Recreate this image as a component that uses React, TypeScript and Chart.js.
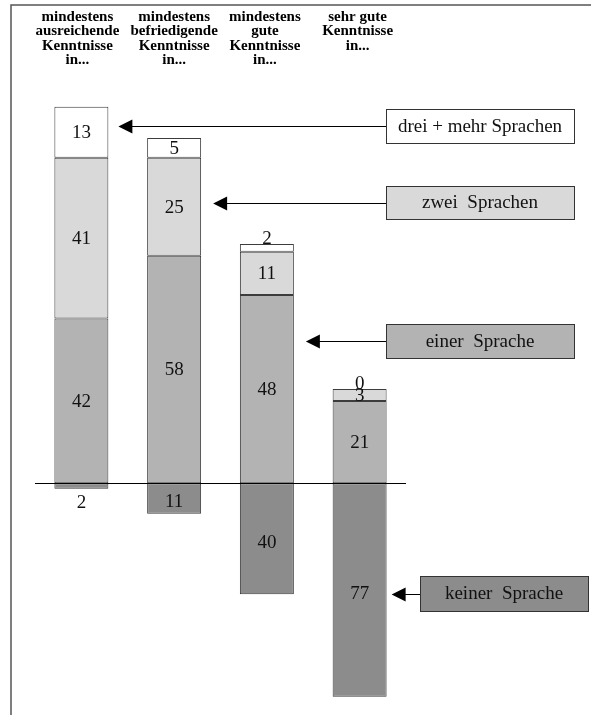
import React, { useEffect, useRef } from "react";
import { Chart, registerables } from "chart.js";
Chart.register(...registerables);

// ---- data ----
const categories = ["ausreichende", "befriedigende", "gute", "sehr gute"];
const headerLines = [
  ["mindestens", "ausreichende", "Kenntnisse", "in..."],
  ["mindestens", "befriedigende", "Kenntnisse", "in..."],
  ["mindestens", "gute", "Kenntnisse", "in..."],
  ["sehr gute", "Kenntnisse", "in..."],
];
const einer = [42, 58, 48, 21];
const zwei = [41, 25, 11, 3];
const dreiPlus = [13, 5, 2, 0];
const keiner = [2, 11, 40, 77];
const seriesNames = ["einer  Sprache", "zwei  Sprachen", "drei + mehr Sprachen", "keiner  Sprache"];
const seriesColors = ["#b3b3b3", "#d9d9d9", "#ffffff", "#8c8c8c"];

// ---- layout ----
const W = 591;
const H = 715;
const Y_MAX = 100;
const Y_MIN = -55;
const NEG_K = 1.415; // negative part drawn on its own, compressed axis
const headerOffsets = [-4, 0, -2, -2];
const legendBoxes = [
  { s: 2, bar: 0, x: 386, y: 109, w: 188, h: 34, gap: 10 },
  { s: 1, bar: 1, x: 386, y: 186, w: 188, h: 33, gap: 12 },
  { s: 0, bar: 2, x: 386, y: 324, w: 188, h: 34, gap: 12 },
  { s: 3, bar: 3, x: 420, y: 576, w: 168, h: 35, gap: 5 },
];

const overlay = {
  id: "overlay",
  beforeDraw(chart: any) {
    const ctx = chart.ctx;
    ctx.save();
    ctx.strokeStyle = "#555";
    ctx.lineWidth = 1.5;
    ctx.beginPath();
    ctx.moveTo(11, chart.height);
    ctx.lineTo(11, 5);
    ctx.lineTo(chart.width, 5);
    ctx.stroke();
    ctx.restore();
  },
  afterDatasetsDraw(chart: any) {
    const ctx = chart.ctx;
    const area = chart.chartArea;
    const xs = chart.scales.x;
    const y0 = chart.scales.y.getPixelForValue(0);
    ctx.save();
    // baseline
    ctx.strokeStyle = "#000";
    ctx.lineWidth = 1;
    ctx.beginPath();
    ctx.moveTo(area.left, Math.round(y0) + 0.5);
    ctx.lineTo(area.right, Math.round(y0) + 0.5);
    ctx.stroke();

    // header labels
    ctx.fillStyle = "#000";
    ctx.font = 'bold 15px "Liberation Serif"';
    ctx.textAlign = "center";
    ctx.textBaseline = "alphabetic";
    headerLines.forEach((lines, i) => {
      const cx = xs.getPixelForValue(i) + headerOffsets[i];
      lines.forEach((ln, j) => ctx.fillText(ln, cx, 21 + j * 14.3));
    });

    // value labels
    ctx.font = '19px "Liberation Serif"';
    ctx.textBaseline = "middle";
    ctx.fillStyle = "#111";
    const all = [einer, zwei, dreiPlus, keiner];
    all.forEach((vals, d) => {
      const meta = chart.getDatasetMeta(d);
      meta.data.forEach((el: any, i: number) => {
        const top = Math.min(el.y, el.base);
        const bot = Math.max(el.y, el.base);
        const h = bot - top;
        let ty = (top + bot) / 2 + 1;
        if (d === 3) {
          ty = h < 8 ? bot + 14 : ty + 3;
        } else if (h < 8) {
          ty = top - 5;
        }
        ctx.fillText(String(vals[i]), el.x, ty);
      });
    });

    // legend boxes and arrows
    legendBoxes.forEach((b) => {
      ctx.fillStyle = seriesColors[b.s];
      ctx.fillRect(b.x, b.y, b.w, b.h);
      ctx.strokeStyle = "#333";
      ctx.lineWidth = 1;
      ctx.strokeRect(b.x + 0.5, b.y + 0.5, b.w, b.h);
      ctx.fillStyle = "#111";
      ctx.font = '19px "Liberation Serif"';
      ctx.textAlign = "center";
      ctx.textBaseline = "middle";
      ctx.fillText(seriesNames[b.s], b.x + b.w / 2, b.y + b.h / 2 + 1);
      const el = chart.getDatasetMeta(b.s).data[b.bar];
      const tx = el.x + el.width / 2 + b.gap;
      const ty = Math.round(b.y + b.h / 2) + 0.5;
      ctx.strokeStyle = "#000";
      ctx.beginPath();
      ctx.moveTo(tx + 10, ty);
      ctx.lineTo(b.x, ty);
      ctx.stroke();
      ctx.fillStyle = "#000";
      ctx.beginPath();
      ctx.moveTo(tx, ty);
      ctx.lineTo(tx + 14, ty - 7);
      ctx.lineTo(tx + 14, ty + 7);
      ctx.closePath();
      ctx.fill();
    });
    ctx.restore();
  },
};

export default function App() {
  const ref = useRef<HTMLCanvasElement>(null);
  useEffect(() => {
    if (!ref.current) return;
    const mk = (label: string, data: number[], color: string, axis: string) => ({
      label,
      data,
      backgroundColor: color,
      borderColor: "#3c3c3c",
      borderWidth: 1,
      borderSkipped: false,
      stack: "s",
      yAxisID: axis,
    });
    const chart = new Chart(ref.current, {
      type: "bar",
      data: {
        labels: categories,
        datasets: [
          mk(seriesNames[0], einer, seriesColors[0], "y"),
          mk(seriesNames[1], zwei, seriesColors[1], "y"),
          mk(seriesNames[2], dreiPlus, seriesColors[2], "y"),
          mk(seriesNames[3], keiner.map((v) => -v), seriesColors[3], "y2"),
        ],
      },
      options: {
        responsive: false,
        animation: false,
        layout: { padding: { left: 35, right: W - 406, top: 91, bottom: 16 } },
        datasets: { bar: { categoryPercentage: 1, barPercentage: 0.582 } },
        plugins: { legend: { display: false }, tooltip: { enabled: false } },
        scales: {
          x: { display: false, stacked: true },
          y: { display: false, stacked: true, min: Y_MIN, max: Y_MAX },
          y2: { display: false, stacked: true, min: Y_MIN * NEG_K, max: Y_MAX * NEG_K },
        },
      },
      plugins: [overlay],
    });
    return () => chart.destroy();
  }, []);
  return (
    <div style={{ position: "absolute", left: 0, top: 0, width: W, height: H, background: "#fff" }}>
      <canvas ref={ref} width={W} height={H} style={{ display: "block" }} />
    </div>
  );
}
